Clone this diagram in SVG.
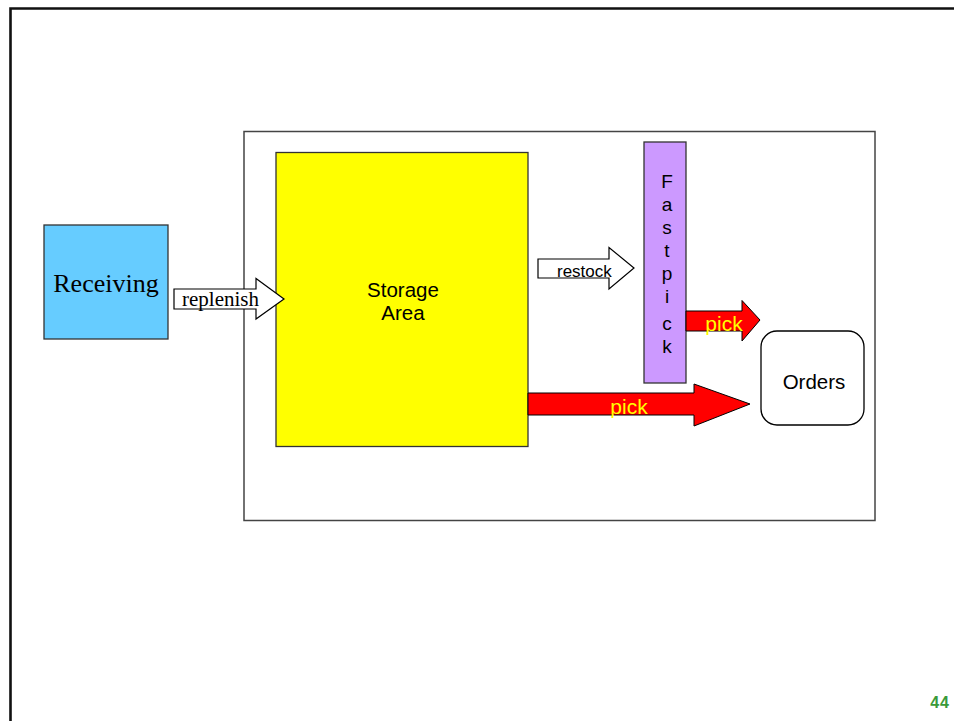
<svg xmlns="http://www.w3.org/2000/svg" width="954" height="721" viewBox="0 0 954 721">
<style>
.sans{font-family:"Liberation Sans",Arial,sans-serif;fill:#000}
.serif{font-family:"Liberation Serif","Times New Roman",serif;fill:#000}
.box{stroke:#333;stroke-width:1.3}
.hollow{fill:#fff;stroke:#000;stroke-width:1.2}
.red{fill:#f00;stroke:#000;stroke-width:1}
.ylw{font-family:"Liberation Sans",Arial,sans-serif;fill:#ff0;font-size:21px}
</style>
<rect width="954" height="721" fill="#fff"/>
<path d="M10.5 721 V8.5 H954" fill="none" stroke="#111" stroke-width="2.6"/>
<g id="warehouse">
<rect x="244" y="131.5" width="631" height="389" fill="#fff" stroke="#444" stroke-width="1.5"/>
</g>
<g id="receiving">
<rect class="box" x="44" y="225" width="124" height="114" fill="#66ccff"/>
<text class="serif" x="106" y="292" font-size="26" text-anchor="middle">Receiving</text>
</g>
<g id="storage">
<rect class="box" x="276" y="152.5" width="252" height="294" fill="#ffff00"/>
<text class="sans" x="403" y="297" font-size="20.5" text-anchor="middle">Storage</text>
<text class="sans" x="403" y="320" font-size="20.5" text-anchor="middle">Area</text>
</g>
<g id="fastpick">
<rect class="box" x="644" y="142" width="42" height="241" fill="#cc99ff"/>
<g class="sans" font-size="19" text-anchor="middle">
<text x="667" y="188">F</text>
<text x="667" y="211">a</text>
<text x="667" y="234">s</text>
<text x="667" y="257">t</text>
<text x="667" y="280">p</text>
<text x="667" y="303">i</text>
<text x="667" y="330">c</text>
<text x="667" y="353">k</text>
</g>
</g>
<g id="orders">
<rect x="761" y="331" width="103" height="94" rx="16" fill="#fff" stroke="#000" stroke-width="1.3"/>
<text class="sans" x="814" y="389" font-size="20.5" text-anchor="middle">Orders</text>
</g>
<g id="connectors">
<polygon class="hollow" points="174,289 256,289 256,278.5 284,299 256,319 256,309 174,309"/>
<text class="serif" x="182" y="306" font-size="21">replenish</text>
<polygon class="hollow" points="538,259 609,259 609,247.5 634,268 609,289 609,278 538,278"/>
<text class="sans" x="557" y="276.5" font-size="17">restock</text>
<polygon class="red" points="686,311 742,311 742,300.5 760,320 742,341 742,331 686,331"/>
<text class="ylw" x="724" y="331" text-anchor="middle">pick</text>
<polygon class="red" points="528,393 694,393 694,384 750,404 694,426 694,415 528,415"/>
<text class="ylw" x="629" y="414" text-anchor="middle">pick</text>
</g>
<text x="950" y="708" font-family="Liberation Sans,Arial,sans-serif" font-size="16" font-weight="bold" fill="#3a9a3a" text-anchor="end" letter-spacing="1">44</text>
</svg>
